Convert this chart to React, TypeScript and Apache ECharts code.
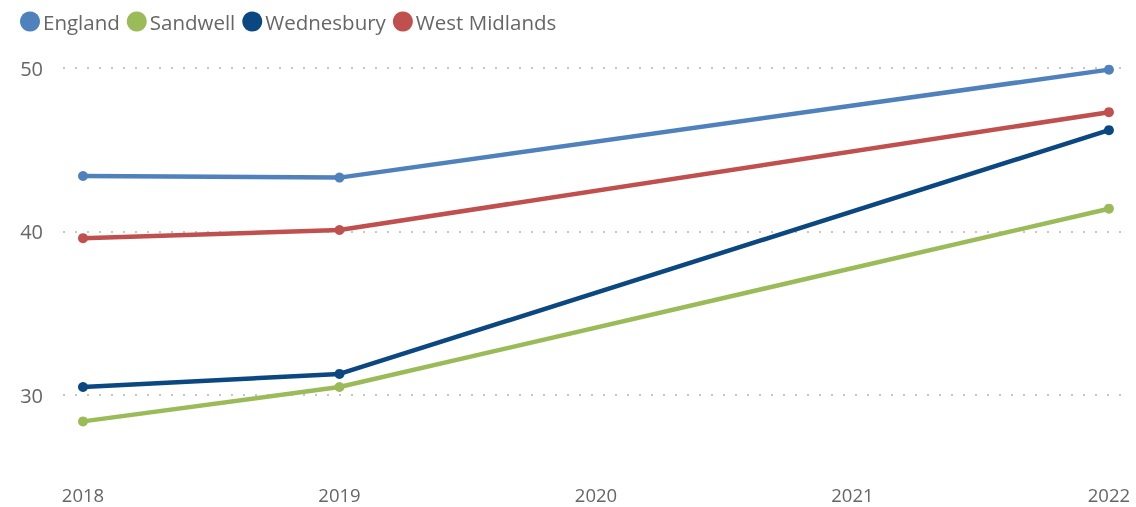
import React, { useEffect, useRef } from "react";
import * as echarts from "echarts";

const years = [2018, 2019, 2022];
const xTickLabels = [2018, 2019, 2020, 2021, 2022];
const seriesNames = ["England", "Sandwell", "Wednesbury", "West Midlands"];
const england = [43.4, 43.3, 49.9];
const sandwell = [28.4, 30.5, 41.4];
const wednesbury = [30.5, 31.3, 46.2];
const westMidlands = [39.6, 40.1, 47.3];
const colors = ["#4F81BD", "#9BBB59", "#0B4780", "#C0504D"];

const FONT = "'Segoe UI', 'Open Sans', sans-serif";

export default function App() {
  const ref = useRef<HTMLDivElement>(null);
  useEffect(() => {
    if (!ref.current) return;
    const chart = echarts.init(ref.current, undefined, { renderer: "svg" });
    const allValues = [england, sandwell, wednesbury, westMidlands];
    chart.setOption({
      animation: false,
      color: colors,
      textStyle: { fontFamily: FONT },
      legend: {
        left: 15,
        top: 6,
        icon: "circle",
        itemWidth: 20,
        itemHeight: 20,
        itemGap: 7,
        textStyle: { fontSize: 20.5, color: "#666666", fontFamily: FONT, padding: [0, 0, 0, -2] },
        data: seriesNames,
      },
      grid: { left: 63, right: 14, top: 68, bottom: 30, containLabel: false },
      xAxis: {
        type: "value",
        min: 2017.922,
        max: 2022.051,
        axisLine: { show: false },
        axisTick: { show: false },
        splitLine: { show: false },
        axisLabel: {
          customValues: xTickLabels,
          formatter: (v: number) => String(Math.round(v)),
          fontSize: 18.5,
          lineHeight: 18,
          color: "#666666",
          fontFamily: FONT,
          margin: 8,
        },
      },
      yAxis: {
        type: "value",
        min: 25,
        max: 50,
        interval: 5,
        axisLine: { show: false },
        axisTick: { show: false },
        axisLabel: {
          formatter: (v: number) => (v % 10 === 0 ? String(v) : ""),
          fontSize: 20,
          color: "#666666",
          fontFamily: FONT,
          margin: 20,
        },
        splitLine: {
          show: true,
          lineStyle: {
            color: ["rgba(0,0,0,0)", "#c6c6c6"],
            width: 2,
            type: [2, 10],
          },
        },
      },
      series: seriesNames.map((name, i) => ({
        name,
        type: "line",
        data: years.map((y, j) => [y, allValues[i][j]]),
        symbol: "circle",
        symbolSize: 10,
        lineStyle: { width: 4.5 },
        itemStyle: { color: colors[i] },
        z: 2 + i,
      })),
    });
    return () => chart.dispose();
  }, []);
  return (
    <div
      ref={ref}
      style={{ position: "fixed", left: 0, top: 0, width: 1136, height: 507 }}
    />
  );
}
